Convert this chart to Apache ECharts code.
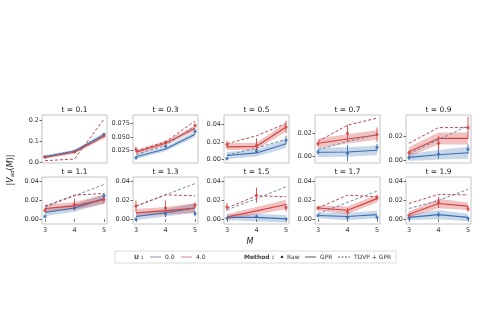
<!DOCTYPE html>
<html>
<head>
<meta charset="utf-8">
<script src="https://cdn.jsdelivr.net/npm/echarts@6/dist/echarts.min.js"></script>
<style>
  html, body { margin: 0; padding: 0; background: #fff; }
  #chart { width: 490px; height: 334px; }
</style>
</head>
<body>
<div id="chart"></div>
<script>
// Bond dimension M on the x axis
const mValues = [3, 4, 5];
const xTickValues = [3, 4, 5];
const times = ['0.1', '0.3', '0.5', '0.7', '0.9', '1.1', '1.3', '1.5', '1.7', '1.9'];

// y-axis tick values per panel
const yTickValues = [
  [0, 0.1, 0.2], [0.025, 0.05, 0.075], [0, 0.02, 0.04], [0, 0.02], [0, 0.02],
  [0, 0.02, 0.04], [0, 0.02, 0.04], [0, 0.02, 0.04], [0, 0.02, 0.04], [0, 0.02, 0.04]
];
const yTickDecimals = [1, 3, 2, 2, 2, 2, 2, 2, 2, 2];

// GPR fit (mean and half-width of the band), U = 0.0
const gprU0 = [
  [0.026, 0.052, 0.130], [0.014, 0.028, 0.055], [0.0045, 0.0075, 0.018], [0.0038, 0.004, 0.0055], [0.0022, 0.0044, 0.006],
  [0.0072, 0.012, 0.022], [0.003, 0.007, 0.012], [0.002, 0.002, 0.0005], [0.004, 0.003, 0.005], [0.002, 0.005, 0.002]
];
const gprU0Err = [
  [0.006, 0.006, 0.010], [0.004, 0.004, 0.005], [0.004, 0.004, 0.005], [0.004, 0.004, 0.004], [0.003, 0.004, 0.005],
  [0.004, 0.004, 0.005], [0.004, 0.004, 0.005], [0.003, 0.004, 0.004], [0.003, 0.004, 0.004], [0.003, 0.005, 0.004]
];
// GPR fit, U = 4.0
const gprU4 = [
  [0.021, 0.046, 0.122], [0.022, 0.0385, 0.066], [0.0144, 0.015, 0.037], [0.0115, 0.0152, 0.0186], [0.0069, 0.018, 0.018],
  [0.0115, 0.0143, 0.021], [0.007, 0.009, 0.012], [0.0025, 0.009, 0.0157], [0.012, 0.0097, 0.022], [0.0053, 0.0168, 0.014]
];
const gprU4Err = [
  [0.006, 0.006, 0.010], [0.004, 0.004, 0.005], [0.004, 0.004, 0.005], [0.004, 0.004, 0.004], [0.004, 0.005, 0.005],
  [0.004, 0.004, 0.005], [0.004, 0.004, 0.005], [0.003, 0.004, 0.005], [0.003, 0.004, 0.004], [0.003, 0.005, 0.004]
];

// Raw estimates with error bars
const rawU0 = [
  [0.024, 0.050, 0.132], [0.012, 0.033, 0.060], [0.001, 0.010, 0.022], [0.004, 0.003, 0.008], [0.002, 0.005, 0.009],
  [0.003, 0.012, 0.025], [0.0, 0.006, 0.006], [0.001, 0.003, 0.0005], [0.004, 0.002, 0.002], [0.001, 0.005, 0.001]
];
const rawU0Err = [
  [0.003, 0.004, 0.006], [0.003, 0.003, 0.004], [0.002, 0.003, 0.005], [0.002, 0.007, 0.003], [0.002, 0.004, 0.004],
  [0.002, 0.003, 0.003], [0.002, 0.004, 0.003], [0.001, 0.002, 0.001], [0.001, 0.002, 0.002], [0.001, 0.003, 0.001]
];
const rawU4 = [
  [0.024, 0.048, 0.124], [0.027, 0.040, 0.071], [0.017, 0.016, 0.037], [0.011, 0.020, 0.019], [0.006, 0.014, 0.027],
  [0.0096, 0.016, 0.021], [0.014, 0.012, 0.015], [0.013, 0.0257, 0.0125], [0.012, 0.008, 0.023], [0.004, 0.018, 0.011]
];
const rawU4Err = [
  [0.003, 0.004, 0.006], [0.005, 0.003, 0.004], [0.004, 0.008, 0.007], [0.002, 0.007, 0.006], [0.002, 0.006, 0.009],
  [0.002, 0.006, 0.004], [0.006, 0.008, 0.003], [0.004, 0.008, 0.004], [0.002, 0.004, 0.003], [0.002, 0.006, 0.003]
];

// TDVP + GPR
const tdvpU0 = [
  [0.025, 0.050, 0.128], [0.018, 0.034, 0.070], [0.005, 0.013, 0.023], [0.006, 0.013, 0.019], [0.005, 0.017, 0.0285],
  [0.013, 0.025, 0.037], [0.014, 0.026, 0.038], [0.010, 0.022, 0.0346], [0.006, 0.018, 0.030], [0.0115, 0.020, 0.032]
];
const tdvpU4 = [
  [0.006, 0.014, 0.205], [0.024, 0.041, 0.079], [0.018, 0.027, 0.041], [0.013, 0.027, 0.033], [0.0139, 0.027, 0.027],
  [0.014, 0.0257, 0.0275], [0.014, 0.026, 0.025], [0.012, 0.025, 0.024], [0.012, 0.0257, 0.024], [0.0168, 0.0265, 0.026]
];

// ---- layout and styling ----
const FONT = 'DejaVu Sans';
const colLeft = [42, 133, 224, 315, 406];
const panelW = 65;
const rowTop = [115, 177];
const panelH = [48, 47];
const yExtent = [
  [-0.005, 0.224], [0.0025, 0.090], [-0.004, 0.0507], [-0.0054, 0.0357], [-0.0025, 0.0375],
  [-0.005, 0.045], [-0.005, 0.045], [-0.005, 0.045], [-0.005, 0.045], [-0.005, 0.045]
];
const BLUE = '#3a6fb0';
const RED = '#d3423f';
const BLUE_BAND = 'rgba(58,111,176,0.28)';
const RED_BAND = 'rgba(211,66,63,0.32)';
const BLUE_DASH = '#5d7ea9';
const RED_DASH = '#b8303f';

const grids = [], xAxes = [], yAxes = [], titles = [], series = [];

function pairs(vals) { return vals.map((v, i) => [mValues[i], v]); }

function band(gi, mid, err, color) {
  const rows = mid.map((v, i) => [mValues[i], v - err[i], v + err[i]]);
  return {
    type: 'custom', xAxisIndex: gi, yAxisIndex: gi, silent: true, z: 1,
    data: rows,
    encode: { x: 0, y: [1, 2] },
    renderItem(params, api) {
      if (params.dataIndex !== 0) return null;
      const upper = rows.map(r => api.coord([r[0], r[2]]));
      const lower = rows.map(r => api.coord([r[0], r[1]])).reverse();
      return { type: 'polygon', shape: { points: upper.concat(lower) }, style: { fill: color } };
    }
  };
}

function errorBars(gi, vals, err, color) {
  const rows = vals.map((v, i) => [mValues[i], v - err[i], v + err[i]]);
  return {
    type: 'custom', xAxisIndex: gi, yAxisIndex: gi, silent: true, z: 4,
    data: rows,
    encode: { x: 0, y: [1, 2] },
    renderItem(params, api) {
      const lo = api.coord([api.value(0), api.value(1)]);
      const hi = api.coord([api.value(0), api.value(2)]);
      return { type: 'line', shape: { x1: lo[0], y1: lo[1], x2: hi[0], y2: hi[1] },
               style: { stroke: color, lineWidth: 0.9 } };
    }
  };
}

function line(gi, vals, color, dashed, z) {
  return {
    type: 'line', xAxisIndex: gi, yAxisIndex: gi, data: pairs(vals), silent: true, z: z,
    showSymbol: false, symbol: 'none',
    lineStyle: { color: color, width: dashed ? 0.9 : 1.1, type: dashed ? [3, 2] : 'solid' }
  };
}

function points(gi, vals, color) {
  return {
    type: 'scatter', xAxisIndex: gi, yAxisIndex: gi, data: pairs(vals), silent: true, z: 5,
    symbol: 'circle', symbolSize: 3.2, itemStyle: { color: color }
  };
}

times.forEach((t, gi) => {
  const row = gi < 5 ? 0 : 1;
  const col = gi % 5;
  grids.push({
    left: colLeft[col], top: rowTop[row], width: panelW, height: panelH[row],
    show: true, borderColor: '#b5b5b5', borderWidth: 0.8, backgroundColor: 'transparent'
  });
  xAxes.push({
    type: 'value', gridIndex: gi, min: 2.9, max: 5.1,
    axisLine: { show: false }, splitLine: { show: false },
    axisTick: { show: row === 1, customValues: xTickValues, length: 2.5, lineStyle: { color: '#444', width: 0.8 } },
    axisLabel: { show: row === 1, customValues: xTickValues, fontSize: 6.5, color: '#333', margin: 3, fontFamily: FONT }
  });
  const dec = yTickDecimals[gi];
  yAxes.push({
    type: 'value', gridIndex: gi, min: yExtent[gi][0], max: yExtent[gi][1],
    axisLine: { show: false }, splitLine: { show: false },
    axisTick: { show: true, customValues: yTickValues[gi], length: 2.5, lineStyle: { color: '#444', width: 0.8 } },
    axisLabel: { customValues: yTickValues[gi], fontSize: 6.5, color: '#333', margin: 3, fontFamily: FONT,
                 formatter: v => v.toFixed(dec) }
  });
  titles.push({
    text: 't = ' + t, left: colLeft[col] + panelW / 2, top: rowTop[row] - 8.5, textAlign: 'center',
    padding: 0,
    textStyle: { fontSize: 7.5, fontWeight: 'normal', color: '#222', fontFamily: FONT }
  });

  series.push(band(gi, gprU0[gi], gprU0Err[gi], BLUE_BAND));
  series.push(band(gi, gprU4[gi], gprU4Err[gi], RED_BAND));
  series.push(line(gi, gprU0[gi], BLUE, false, 2));
  series.push(line(gi, gprU4[gi], RED, false, 2));
  series.push(line(gi, tdvpU0[gi], BLUE_DASH, true, 3));
  series.push(line(gi, tdvpU4[gi], RED_DASH, true, 3));
  series.push(errorBars(gi, rawU0[gi], rawU0Err[gi], BLUE));
  series.push(errorBars(gi, rawU4[gi], rawU4Err[gi], RED));
  series.push(points(gi, rawU0[gi], BLUE));
  series.push(points(gi, rawU4[gi], RED));
});

// legend box, axis labels
const txt = (x, y, s, extra) => Object.assign({
  type: 'text', x: x, y: y,
  style: Object.assign({ text: s, fontSize: 6, fill: '#333', fontFamily: FONT, verticalAlign: 'middle' }, extra || {})
});
const seg = (x1, x2, y, color, dash) => ({
  type: 'line', shape: { x1: x1, y1: y, x2: x2, y2: y },
  style: { stroke: color, lineWidth: 1, lineDash: dash || null }
});
const LY = 257;
const graphics = [
  { type: 'rect', shape: { x: 115, y: 251, width: 281, height: 12 },
    style: { fill: '#fff', stroke: '#d0d0d0', lineWidth: 0.8 } },
  txt(134, LY, 'U :', { fontWeight: 'bold', fill: '#444' }),
  seg(150, 161, LY, '#8b9bb8'),
  txt(165, LY, '0.0'),
  seg(181, 192, LY, '#d58a92'),
  txt(196, LY, '4.0'),
  txt(244, LY, 'Method :', { fontWeight: 'bold', fill: '#444' }),
  { type: 'circle', shape: { cx: 282, cy: LY, r: 1.3 }, style: { fill: '#333' } },
  txt(287, LY, 'Raw'),
  seg(305, 316, LY, '#555'),
  txt(320, LY, 'GPR'),
  seg(338, 350, LY, '#555', [2, 1.5]),
  txt(354, LY, 'TDVP + GPR'),
  txt(250, 242, 'M', { fontSize: 8, fontStyle: 'italic', fill: '#222', align: 'center' }),
  {
    type: 'text', x: 11, y: 170, rotation: Math.PI / 2,
    style: {
      text: '{n||}{i|V}{s|ad}{n|(}{i|M}{n|)|}',
      align: 'center', verticalAlign: 'middle', fontFamily: FONT,
      rich: {
        n: { fontSize: 8, fill: '#222', fontFamily: FONT },
        i: { fontSize: 8, fill: '#222', fontStyle: 'italic', fontFamily: FONT },
        s: { fontSize: 5.5, fill: '#222', fontStyle: 'italic', fontFamily: FONT, padding: [3, 0, 0, 0] }
      }
    }
  }
];

const chart = echarts.init(document.getElementById('chart'), null, { renderer: 'canvas' });
chart.setOption({
  animation: false,
  backgroundColor: '#fff',
  title: titles,
  grid: grids,
  xAxis: xAxes,
  yAxis: yAxes,
  series: series,
  graphic: graphics
});
</script>
</body>
</html>
